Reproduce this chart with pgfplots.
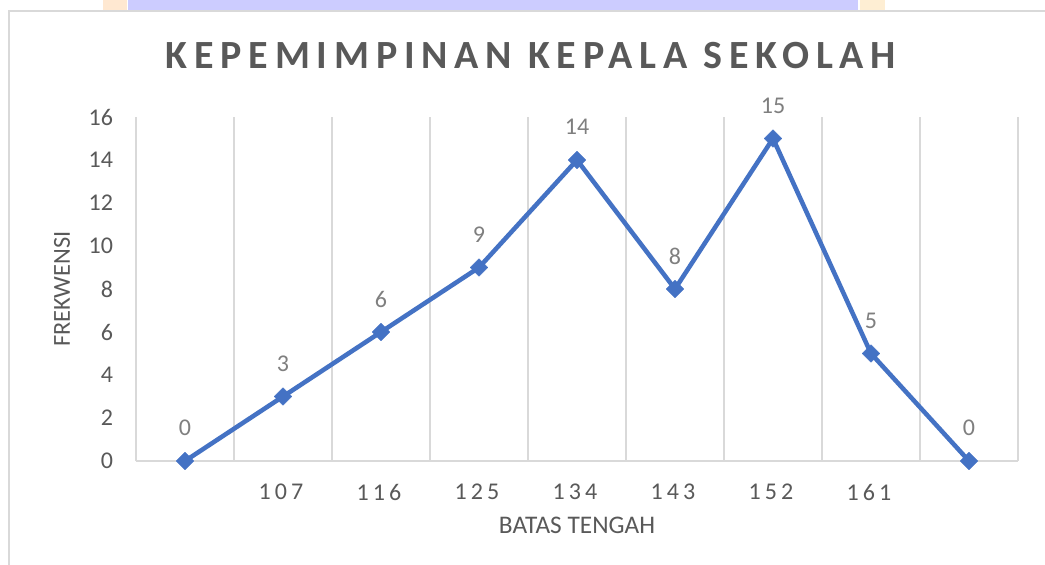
\documentclass[border=0pt]{standalone}
\usepackage{pgfplots}
\pgfplotsset{compat=1.18}
\usepackage{fontspec}
\setmainfont{Carlito}
\newfontfamily\spaced[LetterSpace=17]{Carlito}
\newfontfamily\titlefont[LetterSpace=17]{Carlito}
\definecolor{lineblue}{HTML}{4472C4}
\definecolor{txt}{HTML}{595959}
\definecolor{lbl}{HTML}{7F7F7F}
\definecolor{grd}{HTML}{D9D9D9}
\begin{document}
\begin{tikzpicture}[x=0.75pt,y=0.75pt]
\useasboundingbox (0,0) rectangle (1045,564);
\fill[white] (0,0) rectangle (1045,564);
\fill[orange!18] (103,553) rectangle (127,564);
\fill[blue!20!white] (128,553) rectangle (858,564);
\fill[yellow!20!orange!15] (860,553) rectangle (885,564);
\draw[grd, line width=1.5pt] (9,-5) -- (9,553) -- (1050,553);
\node[anchor=base, text=txt, font=\titlefont\bfseries\fontsize{30}{33}\selectfont] at (531,495) {KEPEMIMPINAN KEPALA SEKOLAH};
\node[text=txt, font=\fontsize{19}{22}\selectfont] at (577,39) {BATAS TENGAH};
\node[rotate=90, text=txt, font=\fontsize{18.3}{21}\selectfont] at (62,275) {FREKWENSI};
\begin{axis}[
  at={(102pt,77.25pt)}, anchor=south west,
  scale only axis, width=661.5pt, height=258pt,
  xmin=-0.5, xmax=8.5, ymin=0, ymax=16,
  axis line style={draw=none},
  xtick={1,...,7}, xticklabels={107,116,125,134,143,152,161},
  ytick={0,2,...,16},
  major tick length=0pt,
  extra x ticks={-0.5,0.5,...,8.5}, extra x tick labels={},
  extra y ticks={0}, extra y tick labels={},
  extra tick style={grid=major, major grid style={grd, line width=1.5pt}},
  tick label style={font=\fontsize{18}{21}\selectfont, text=txt},
  xticklabel style={font=\spaced\fontsize{18}{21}\selectfont, inner sep=0pt, yshift=-17.25pt, xshift=-1.5pt},
  yticklabel style={inner sep=0pt, xshift=-17pt},
  /pgf/number format/assume math mode=true,
  clip=false,
  nodes near coords,
  nodes near coords style={font=\fontsize{18}{21}\selectfont, text=lbl, anchor=center, yshift=24.75pt},
]
\addplot[lineblue, line width=3.4pt, line join=round, mark=square*, mark size=4.6pt,
  mark options={rotate=45, line width=0.4pt, fill=lineblue, solid}]
  coordinates {(0,0)(1,3)(2,6)(3,9)(4,14)(5,8)(6,15)(7,5)(8,0)};
\end{axis}
\end{tikzpicture}
\end{document}
